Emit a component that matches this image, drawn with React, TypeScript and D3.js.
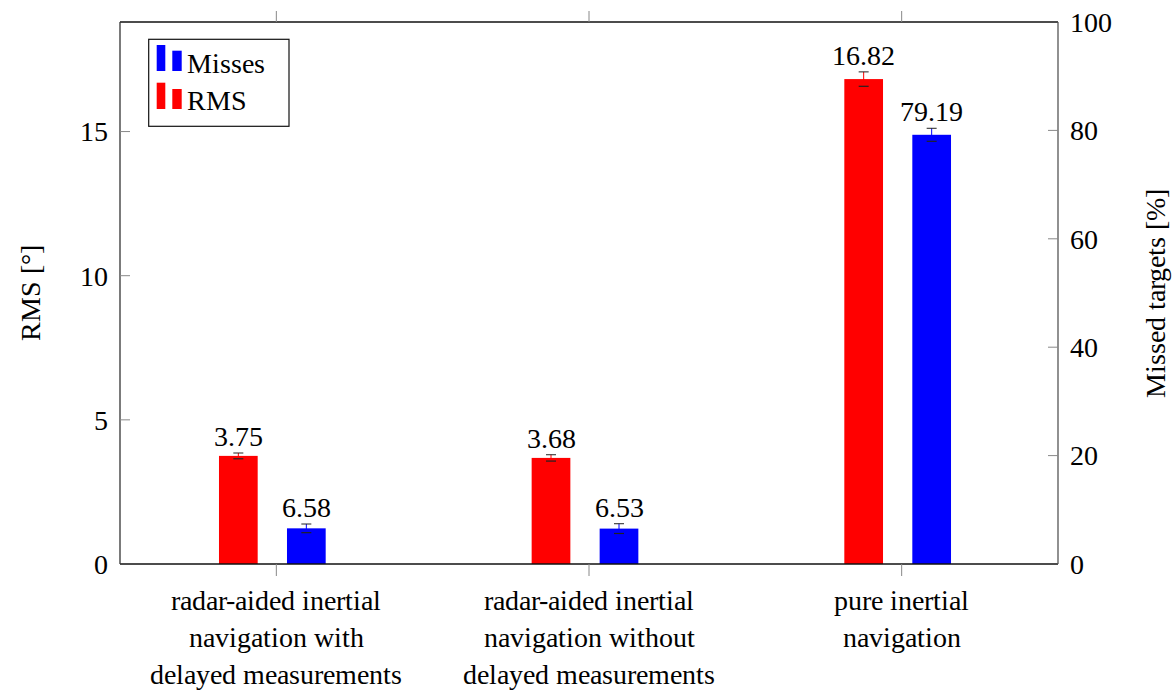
import React from "react";
import * as d3 from "d3";

const categories = [
  ["radar-aided inertial", "navigation with", "delayed measurements"],
  ["radar-aided inertial", "navigation without", "delayed measurements"],
  ["pure inertial", "navigation"],
];
const rmsValues = [3.75, 3.68, 16.82];
const rmsErrors = [0.1, 0.11, 0.25];
const missValues = [6.58, 6.53, 79.19];
const missErrors = [0.8, 0.9, 1.2];
const rmsTicks = [0, 5, 10, 15];
const missTicks = [0, 20, 40, 60, 80, 100];

const W = 1173;
const H = 695;
const left = 120;
const right = 1058;
const top = 22;
const bottom = 564;
const font = "ChartSerif, Liberation Serif, DejaVu Serif, serif";

const App = () => {
  const x = d3
    .scaleBand<number>()
    .domain(categories.map((_, i) => i))
    .range([left, right])
    .padding(0);
  const yRms = d3.scaleLinear().domain([0, 18.8]).range([bottom, top]);
  const yMiss = d3.scaleLinear().domain([0, 100]).range([bottom, top]);

  const barW = 38.7;
  const redShift = -38;
  const blueShift = 30;
  const cx = (i: number) => (x(i) as number) + x.bandwidth() / 2;

  const bars = [
    { vals: rmsValues, errs: rmsErrors, y: yRms, shift: redShift, color: "#ff0000" },
    { vals: missValues, errs: missErrors, y: yMiss, shift: blueShift, color: "#0000ff" },
  ];

  return (
    <svg width={W} height={H} style={{ position: "absolute", left: 0, top: 0, background: "#fff", fontFamily: font }}>
      <style>{`@font-face { font-family: ChartSerif; src: local("Liberation Serif"), local("LiberationSerif-Regular"), local("DejaVu Serif"), local("DejaVuSerif"); }`}</style>
      {/* bars */}
      {bars.map((s, si) =>
        s.vals.map((v, i) => {
          const c = cx(i) + s.shift;
          const yTop = s.y(v + s.errs[i]);
          const yBot = s.y(v - s.errs[i]);
          return (
            <g key={`${si}-${i}`}>
              <rect x={c - barW / 2} y={s.y(v)} width={barW} height={bottom - s.y(v)} fill={s.color} />
              <line x1={c} x2={c} y1={yTop} y2={yBot} stroke={s.color} strokeWidth={1} />
              <line x1={c - 5} x2={c + 5} y1={yTop} y2={yTop} stroke="#222" strokeWidth={1} />
              <line x1={c - 5} x2={c + 5} y1={yBot} y2={yBot} stroke="#222" strokeWidth={1.2} />
              <text x={c} y={yTop - 7} textAnchor="middle" fontSize={28}>
                {v.toFixed(2)}
              </text>
            </g>
          );
        })
      )}

      {/* frame */}
      <line x1={left} x2={right} y1={top} y2={top} stroke="#111" strokeWidth={1.3} />
      <line x1={left} x2={right} y1={bottom} y2={bottom} stroke="#111" strokeWidth={1.3} />
      <line x1={left} x2={left} y1={top} y2={bottom} stroke="#333" strokeWidth={1.3} />
      <line x1={right} x2={right} y1={top} y2={bottom} stroke="#555" strokeWidth={1.3} />

      {/* left ticks */}
      {rmsTicks.map((t) => (
        <g key={`l${t}`}>
          {t > 0 && <line x1={left} x2={left + 10} y1={yRms(t)} y2={yRms(t)} stroke="#888" />}
          <text x={left - 12} y={yRms(t)} dy="0.35em" textAnchor="end" fontSize={28}>
            {t}
          </text>
        </g>
      ))}

      {/* right ticks */}
      {missTicks.map((t) => (
        <g key={`r${t}`}>
          {t > 0 && t < 100 && <line x1={right - 10} x2={right} y1={yMiss(t)} y2={yMiss(t)} stroke="#888" />}
          <text x={right + 12} y={yMiss(t)} dy="0.35em" textAnchor="start" fontSize={28}>
            {t}
          </text>
        </g>
      ))}

      {/* category ticks and labels */}
      {categories.map((lines, i) => (
        <g key={`c${i}`}>
          <line x1={cx(i)} x2={cx(i)} y1={bottom} y2={bottom + 12} stroke="#888" />
          <line x1={cx(i)} x2={cx(i)} y1={top - 11} y2={top} stroke="#888" />
          {lines.map((ln, j) => (
            <text key={j} x={cx(i)} y={610 + j * 37} textAnchor="middle" fontSize={28}>
              {ln}
            </text>
          ))}
        </g>
      ))}

      {/* axis labels */}
      <text transform={`translate(40,${(top + bottom) / 2}) rotate(-90)`} textAnchor="middle" fontSize={28}>
        RMS [°]
      </text>
      <text transform={`translate(1165,${(top + bottom) / 2}) rotate(-90)`} textAnchor="middle" fontSize={28}>
        Missed targets [%]
      </text>

      {/* legend */}
      <g>
        <rect x={148.7} y={39.3} width={140.3} height={87} fill="#fff" stroke="#111" strokeWidth={1.2} />
        <rect x={156.7} y={45} width={8.6} height={26} fill="#0000ff" />
        <rect x={172.3} y={50.7} width={9.4} height={20.3} fill="#0000ff" />
        <text x={187} y={72.5} fontSize={28}>Misses</text>
        <rect x={156.7} y={82.7} width={8.6} height={26.3} fill="#ff0000" />
        <rect x={172.3} y={89} width={9.4} height={20} fill="#ff0000" />
        <text x={187} y={110} fontSize={28}>RMS</text>
      </g>
    </svg>
  );
};

export default App;
